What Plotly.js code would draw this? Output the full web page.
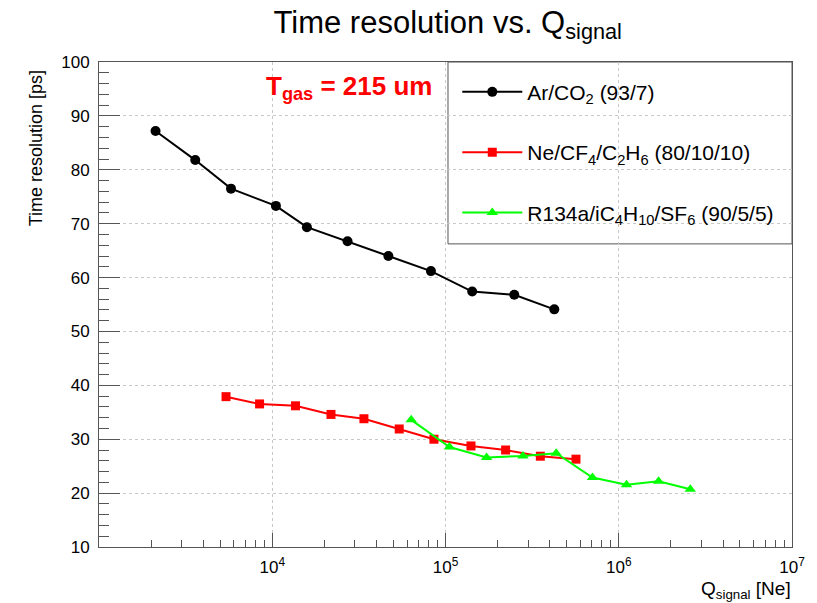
<!DOCTYPE html>
<html>
<head>
<meta charset="utf-8">
<script src="https://cdn.plot.ly/plotly-3.0.1.min.js"></script>
<style>html,body{margin:0;padding:0;background:#fff;}#chart{width:817px;height:603px;}</style>
</head>
<body>
<div id="chart"></div>
<script>
// Ar/CO2 (93/7)
const arQ   = [2120, 3595, 5780, 10500, 15850, 27200, 46800, 82400, 142600, 249500, 424600];
const arRes = [87.2, 81.8, 76.5, 73.3, 69.35, 66.75, 64.0, 61.2, 57.4, 56.8, 54.1];
// Ne/CF4/C2H6 (80/10/10)
const neQ   = [5410, 8450, 13620, 21830, 33820, 54070, 85760, 140300, 222300, 352700, 566300];
const neRes = [37.9, 36.55, 36.2, 34.6, 33.8, 31.9, 30.0, 28.75, 28.0, 26.85, 26.3];
// R134a/iC4H10/SF6 (90/5/5)
const rQ    = [63400, 105400, 172600, 279900, 435500, 705000, 1109000, 1698000, 2587000];
const rRes  = [33.6, 28.55, 26.6, 26.9, 27.4, 22.9, 21.55, 22.2, 20.7];

const seriesNames = ['Ar/CO<sub>2</sub> (93/7)', 'Ne/CF<sub>4</sub>/C<sub>2</sub>H<sub>6</sub> (80/10/10)', 'R134a/iC<sub>4</sub>H<sub>10</sub>/SF<sub>6</sub> (90/5/5)'];
const xTickVals = [1e4, 1e5, 1e6, 1e7];
const xTickText = ['10<sup>4</sup>', '10<sup>5</sup>', '10<sup>6</sup>', '10<sup>7</sup>'];
const xMinorVals = [];
for (const d of [1e3, 1e4, 1e5, 1e6]) for (let m = 2; m <= 9; m++) xMinorVals.push(m * d);

const FONT = 'Liberation Sans, Arial, Helvetica, sans-serif';
const AX = '#555';

const traces = [
  {x: arQ, y: arRes, name: seriesNames[0], mode: 'lines+markers', legendgroup: 'a',
   line: {color: '#000', width: 2}, marker: {symbol: 'circle', size: 10, color: '#000'}},
  {x: neQ, y: neRes, name: seriesNames[1], mode: 'lines+markers', legendgroup: 'b',
   line: {color: '#ff0000', width: 2}, marker: {symbol: 'square', size: 9, color: '#ff0000'}},
  {x: rQ, y: rRes, name: seriesNames[2], mode: 'lines+markers', legendgroup: 'c',
   line: {color: '#00ff00', width: 2}, marker: {symbol: 'triangle-up', size: 10, color: '#00ff00'}}
];

const layout = {
  width: 817, height: 603,
  margin: {l: 99, r: 25, t: 62, b: 56},
  paper_bgcolor: '#fff', plot_bgcolor: '#fff',
  font: {family: FONT, color: '#000', size: 16},
  title: {text: 'Time resolution vs. Q<sub>signal</sub>', font: {size: 31, family: FONT, color: '#000'},
          xref: 'container', x: 0.548, xanchor: 'center', yref: 'container', y: 0.982, yanchor: 'top'},
  xaxis: {
    type: 'log', range: [3, 7], showline: true, linecolor: AX, linewidth: 1, mirror: true,
    ticks: 'inside', ticklen: 14, tickcolor: AX, tickmode: 'array', tickvals: xTickVals, ticktext: xTickText,
    tickfont: {size: 17, family: FONT, color: '#000'}, ticklabelstandoff: 5,
    showgrid: true, gridcolor: '#c8c8c8', griddash: 'dot', gridwidth: 1, zeroline: false,
    minor: {tickmode: 'array', tickvals: xMinorVals, ticks: 'inside', ticklen: 7, tickcolor: AX, showgrid: false}
  },
  yaxis: {
    range: [10, 100], showline: true, linecolor: AX, linewidth: 1, mirror: true,
    ticks: 'inside', ticklen: 21, tickcolor: AX, dtick: 10, tick0: 0,
    tickfont: {size: 17, family: FONT, color: '#000'}, ticklabelstandoff: 5,
    showgrid: true, gridcolor: '#c8c8c8', griddash: 'dot', gridwidth: 1, zeroline: false,
    minor: {dtick: 2, ticks: 'inside', ticklen: 10, tickcolor: AX, showgrid: false}
  },
  showlegend: true,
  legend: {x: 0.517, xanchor: 'left', y: 0.98, yanchor: 'top', bgcolor: 'rgba(0,0,0,0)', borderwidth: 0,
           font: {size: 21, family: FONT, color: '#000'}, itemwidth: 60, tracegroupgap: 30, traceorder: 'grouped'},
  shapes: [
    {type: 'rect', xref: 'paper', yref: 'paper', x0: 0.5036, x1: 1, y0: 0.625, y1: 1,
     line: {color: AX, width: 1}, fillcolor: '#fff', layer: 'below'}
  ],
  annotations: [
    {text: 'T<sub>gas</sub> = 215 um', xref: 'paper', yref: 'paper', x: 0.238, y: 0.948, xanchor: 'left', yanchor: 'middle',
     showarrow: false, font: {size: 26, family: FONT, color: '#ff0000', weight: 'bold'}},
    {text: 'Time resolution [ps]', xref: 'paper', yref: 'paper', x: -0.0909, y: 0.822, xanchor: 'center', yanchor: 'middle',
     textangle: -90, showarrow: false, font: {size: 18, family: FONT, color: '#000'}},
    {text: 'Q<sub>signal</sub> [Ne]', xref: 'paper', yref: 'paper', x: 1.002, y: -0.088, xanchor: 'right', yanchor: 'middle',
     showarrow: false, font: {size: 19, family: FONT, color: '#000'}}
  ]
};

Plotly.newPlot('chart', traces, layout, {displayModeBar: false, staticPlot: true});
</script>
</body>
</html>
